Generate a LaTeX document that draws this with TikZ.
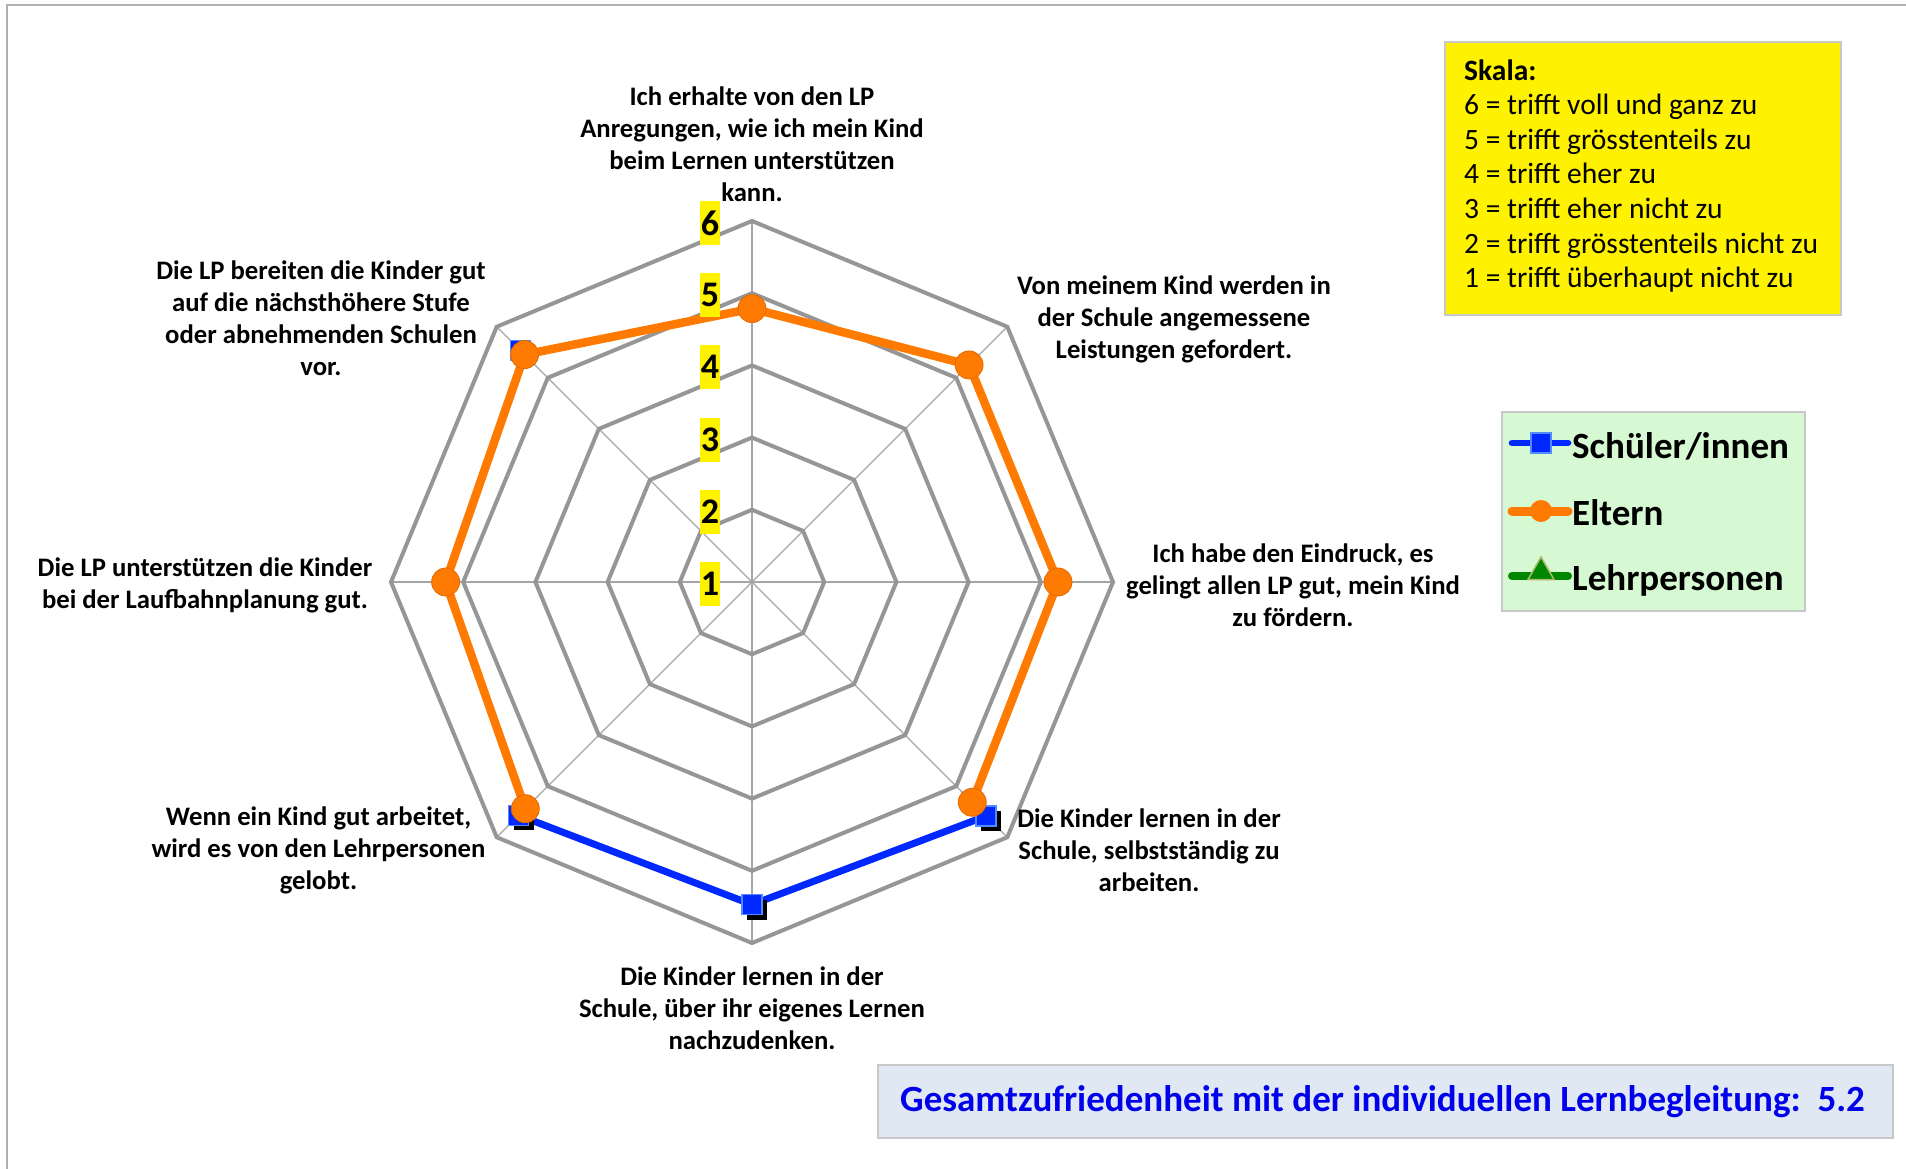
\documentclass[tikz,border=0pt]{standalone}
\usepackage{fontspec}
\setmainfont{Carlito}
\usetikzlibrary{shapes.geometric}
\definecolor{ringgray}{RGB}{150,150,150}
\definecolor{spokegray}{RGB}{165,165,165}
\definecolor{orangeS}{RGB}{255,122,0}
\definecolor{orangeB}{RGB}{225,105,0}
\definecolor{blueS}{RGB}{0,40,255}
\definecolor{blueB}{RGB}{80,140,255}
\definecolor{greenS}{RGB}{0,135,0}
\definecolor{greenB}{RGB}{175,185,110}
\definecolor{legendgreen}{RGB}{214,248,210}
\definecolor{boxblue}{RGB}{223,232,243}
\definecolor{textblue}{RGB}{0,0,235}
\definecolor{framegray}{RGB}{175,175,175}
\definecolor{boxgray}{RGB}{200,200,200}
\tikzset{
  ring/.style={draw=ringgray, line width=4pt, line join=miter},
  spoke/.style={draw=spokegray, line width=1.3pt},
  lbl/.style={align=center, font=\bfseries\fontsize{26.7}{32}\selectfont, inner sep=0pt},
  scalenum/.style={fill=yellow, font=\bfseries\fontsize{36}{40}\selectfont, inner sep=0pt, minimum width=20pt, minimum height=44pt},
  oline/.style={draw=orangeS, line width=8.5pt, line join=round},
  bline/.style={draw=blueS, line width=7pt, line join=round},
  omark/.style={circle, fill=orangeS, draw=orangeB, line width=0.8pt, minimum size=28pt, inner sep=0pt},
  bmark/.style={rectangle, fill=blueS, draw=blueB, line width=1.5pt, minimum size=20pt, inner sep=0pt},
  shadowmark/.style={rectangle, fill=black, minimum size=20pt, inner sep=0pt},
  skalatxt/.style={anchor=base west, inner sep=0pt, font=\fontsize{29.5}{34}\selectfont},
  legtxt/.style={anchor=base west, inner sep=0pt, font=\bfseries\fontsize{37}{40}\selectfont},
}
\begin{document}
\begin{tikzpicture}[x=1pt,y=-1pt]
\useasboundingbox (0,0) rectangle (1906,1169);
% frame
\coordinate (f1) at (6.5,1169);
\coordinate (f2) at (6.5,5);
\coordinate (f3) at (1906,5);
\draw[framegray, line width=2pt] (f1) -- (f2) -- (f3);

\begin{scope}[shift={(752,582)}]
\coordinate (C) at (0,0);
% spokes
\foreach \a in {0,45,...,315}{
  \coordinate (s\a) at (\a:361);
  \draw[spoke] (C) -- (s\a);
}
% rings
\foreach \r in {72.2,144.4,216.6,288.8,361}{
  \draw[ring] (0:\r) \foreach \a in {45,90,...,315}{ -- (\a:\r)} -- cycle;
}
% data coordinates (angles flipped: -90 = top)
\coordinate (o1) at (-90:273.4);
\coordinate (o2) at (-45:307);
\coordinate (o3) at (0:306);
\coordinate (o4) at (45:311.5);
\coordinate (o6) at (135:320.6);
\coordinate (o7) at (180:306.4);
\coordinate (o8) at (-135:321.6);
\coordinate (b4) at (45:331);
\coordinate (b5) at (90:322.6);
\coordinate (b6) at (135:330);
\coordinate (b8) at (-135:327.7);
% blue series
\draw[bline] (b6) -- (b5) -- (b4);
\foreach \p in {b4,b5,b6,b8}{
  \node[shadowmark] at ([shift={(5,5)}]\p) {};
  \node[bmark] at (\p) {};
}
% orange series
\draw[oline] (o6) -- (o7) -- (o8) -- (o1) -- (o2) -- (o3) -- (o4);
\foreach \p in {o1,o2,o3,o4,o6,o7,o8}{
  \node[omark] at (\p) {};
}
\end{scope}

% scale numbers
\node[scalenum] (n1) at (710,584) {1};
\node[scalenum] (n2) at (710,512) {2};
\node[scalenum] (n3) at (710,440) {3};
\node[scalenum] (n4) at (710,367) {4};
\node[scalenum] (n5) at (710,295) {5};
\node[scalenum] (n6) at (710,223) {6};

% axis labels
\node[lbl] (q1) at (752,144) {Ich erhalte von den LP\\Anregungen, wie ich mein Kind\\beim Lernen unterstützen\\kann.};
\node[lbl] (q2) at (1174,319) {Von meinem Kind werden in\\der Schule angemessene\\Leistungen gefordert.};
\node[lbl] (q3) at (1293,585) {Ich habe den Eindruck, es\\gelingt allen LP gut, mein Kind\\zu fördern.};
\node[lbl] (q4) at (1149,850) {Die Kinder lernen in der\\Schule, selbstständig zu\\arbeiten.};
\node[lbl] (q5) at (752,1008) {Die Kinder lernen in der\\Schule, über ihr eigenes Lernen\\nachzudenken.};
\node[lbl] (q6) at (318.5,850) {Wenn ein Kind gut arbeitet,\\wird es von den Lehrpersonen\\gelobt.};
\node[lbl] (q7) at (205,585) {Die LP unterstützen die Kinder\\bei der Laufbahnplanung gut.};
\node[lbl] (q8) at (321,318) {Die LP bereiten die Kinder gut\\auf die nächsthöhere Stufe\\oder abnehmenden Schulen\\vor.};

% Skala box
\node[draw=boxgray, line width=2pt, fill=yellow, anchor=north west, minimum width=396pt, minimum height=273pt, inner sep=0pt] (skala) at (1444,41) {};
\node[skalatxt, font=\bfseries\fontsize{29.5}{34}\selectfont] (sk0) at (1464,80.7) {Skala:};
\node[skalatxt] (sk6) at (1464,115) {6 = trifft voll und ganz zu};
\node[skalatxt] (sk5) at (1464,149.5) {5 = trifft grösstenteils zu};
\node[skalatxt] (sk4) at (1464,184) {4 = trifft eher zu};
\node[skalatxt] (sk3) at (1464,218.5) {3 = trifft eher nicht zu};
\node[skalatxt] (sk2) at (1464,253) {2 = trifft grösstenteils nicht zu};
\node[skalatxt] (sk1) at (1464,287) {1 = trifft überhaupt nicht zu};

% Legend
\node[draw=boxgray, line width=2pt, fill=legendgreen, anchor=north west, minimum width=303.6pt, minimum height=199.3pt, inner sep=0pt] (legend) at (1500.7,410.7) {};
\coordinate (la1) at (1512,443);
\coordinate (la2) at (1568,443);
\coordinate (lb1) at (1512,511);
\coordinate (lb2) at (1568,511);
\coordinate (lc1) at (1512,576);
\coordinate (lc2) at (1568,576);
\draw[draw=blueS, line width=6.7pt, line cap=round] (la1) -- (la2);
\node[bmark] (lam) at (1541,443) {};
\draw[draw=orangeS, line width=9pt, line cap=round] (lb1) -- (lb2);
\node[circle, fill=orangeS, inner sep=0pt, minimum size=22pt] (lbm) at (1541,511) {};
\draw[draw=greenS, line width=8pt, line cap=round] (lc1) -- (lc2);
\node[regular polygon, regular polygon sides=3, fill=greenS, draw=greenB, line width=1.5pt, inner sep=0pt, minimum size=30pt] (lcm) at (1541,572) {};
\node[legtxt] (lt1) at (1572,458) {Schüler/innen};
\node[legtxt] (lt2) at (1572,525) {Eltern};
\node[legtxt] (lt3) at (1572,590) {Lehrpersonen};

% bottom box
\node[draw=boxgray, line width=2pt, fill=boxblue, anchor=north west, minimum width=1015pt, minimum height=73.3pt, inner sep=0pt] (gbox) at (876.7,1064) {};
\node[anchor=base, inner sep=0pt, text=textblue, font=\bfseries\fontsize{37}{40}\selectfont] (gtxt) at (1382.5,1111) {Gesamtzufriedenheit mit der individuellen Lernbegleitung:\ \ 5.2};
\end{tikzpicture}
\end{document}
